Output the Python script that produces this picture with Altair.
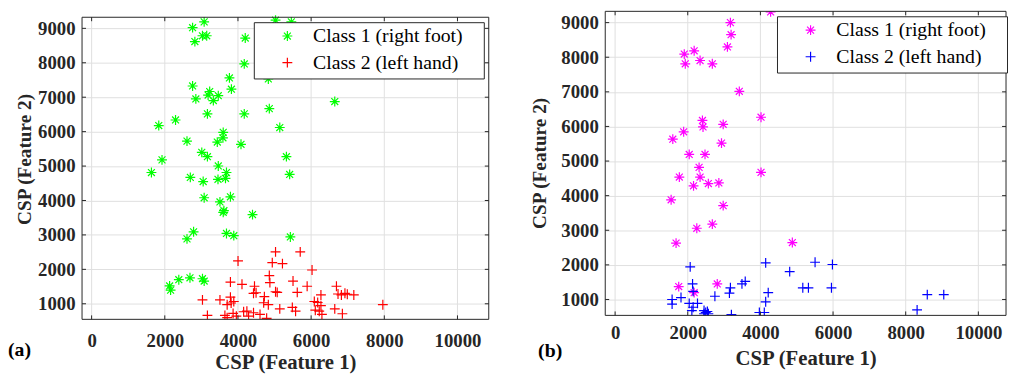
import altair as alt
import pandas as pd

# ---------------- data ----------------
classes = ["Class 1 (right foot)\u2800", "Class 2 (left hand)\u2800"]
x_ticks = [0, 2000, 4000, 6000, 8000, 10000]
y_ticks = [1000, 2000, 3000, 4000, 5000, 6000, 7000, 8000, 9000]

a_c1_x = [2760, 3076, 3030, 3146, 2822, 4199, 5027, 5459, 4172, 3767, 3821, 2760, 2849, 3227, 3184,
          3462, 3327, 3165, 4172, 4857, 5143, 2294, 1835, 3597, 3589, 3435, 2607, 4083, 3011, 3165,
          5324, 1924, 3462, 1635, 3686, 3659, 5413, 2698, 3049, 3454, 3076, 3794, 3508, 3616, 3597,
          4398, 2787, 2607, 3686, 3886, 5432, 2132, 2159, 2383, 2688, 3030, 3076, 6646, 4830]
a_c1_y = [9020, 9189, 8785, 8785, 8616, 8718, 9237, 9189, 7967, 7560, 7233, 7326, 6950, 7165, 7063,
          7044, 6902, 6516, 6516, 6668, 6120, 6338, 6177, 5979, 5821, 5697, 5725, 5632, 5397, 5273,
          5273, 5180, 5002, 4813, 4813, 4644, 4757, 4672, 4550, 4615, 4079, 4107, 3958, 3704, 3656,
          3591, 3091, 2885, 3043, 2978, 2941, 1518, 1397, 1699, 1755, 1727, 1660, 6874, 7530]
a_c2_x = [4002, 5027, 5702, 4938, 5216, 4857, 4873, 5505, 3794, 4110, 4452, 4425, 4495, 4722, 5027,
          5073, 5621, 3030, 3508, 3794, 3813, 3886, 3705, 4830, 5143, 5486, 5575, 3165, 3643, 3705,
          3867, 3956, 4155, 4244, 4290, 4425, 4603, 4784, 6025, 5891, 6268, 6087, 6179, 6268, 6114,
          6222, 6295, 6692, 6735, 6827, 6924, 6989, 7167, 6646, 6854, 7960, 4703]
a_c2_y = [2244, 2506, 2506, 2196, 2168, 1820, 1614, 1660, 1631, 1566, 1510, 1304, 1321, 1208, 1349,
          1332, 1332, 1115, 1115, 1191, 1022, 1067, 973, 973, 852, 897, 784, 663, 663, 598,
          719, 643, 768, 784, 643, 739, 691, 578, 1981, 1510, 1256, 1067, 1038, 945, 813,
          784, 691, 1510, 1284, 1256, 1304, 1276, 1256, 852, 711, 973, 1030]

b_c1_x = [4281, 3174, 3193, 3092, 1904, 2176, 1931, 2339, 2676, 3419, 4017, 2404, 2420, 2975, 1887,
          1588, 2929, 2040, 2475, 2312, 1768, 2339, 4017, 2159, 2567, 2856, 1542, 2975, 2249, 2676,
          1678, 4879, 1751, 2812, 2176]
b_c1_y = [9309, 9000, 8652, 8298, 8091, 8186, 7810, 7905, 7810, 7015, 6266, 6173, 5985, 6061, 5845,
          5632, 5519, 5191, 5191, 4818, 4537, 4537, 4672, 4284, 4349, 4368, 3880, 3712, 3058, 3178,
          2628, 2645, 1373, 1449, 1196]
b_c2_x = [2067, 2132, 2148, 1569, 1569, 1814, 2040, 2268, 2148, 2113, 2448, 2494, 2540, 2448, 2567,
          2747, 3147, 3174, 3492, 3582, 4145, 4215, 4145, 3971, 4107, 3201, 4806, 5167, 5322, 5505,
          5983, 5956, 8314, 8594, 9048]
b_c2_y = [1943, 1449, 1233, 1000, 868, 1056, 888, 888, 775, 680, 680, 624, 652, 587, 587,
          1093, 1185, 1337, 1449, 1522, 2056, 1196, 933, 624, 624, 560, 1803, 1337, 1337, 2075,
          2011, 1337, 700, 1140, 1140]

# ---------------- styling ----------------
STAR = "M-1,0L1,0M0,-1L0,1M-0.7,-0.7L0.7,0.7M-0.7,0.7L0.7,-0.7"
PLUS = "M-1,0L1,0M0,-1L0,1"
FONT = "Liberation Serif"
AX = "#262626"
GRID = "#DFDFDF"


def panel(c1x, c1y, c2x, c2y, colors, xdom, ydom, w, h, top, leg_x, leg_y,
          ytx, yty, xlp, xtp, tag, tag_x, tag_y):
    df = pd.DataFrame({
        "x": c1x + c2x,
        "y": c1y + c2y,
        "cls": [classes[0]] * len(c1x) + [classes[1]] * len(c2x),
    })
    leg = alt.Legend(
        orient="none", legendX=leg_x, legendY=leg_y, title=None,
        strokeColor=AX, fillColor="white", padding=6, symbolOffset=18,
        labelOffset=16, rowPadding=7, clipHeight=16, labelFont=FONT,
        labelFontSize=20, labelColor="black", labelLimit=400, symbolSize=100,
        symbolStrokeWidth=1.2,
    )
    xs = alt.Scale(domain=xdom, nice=False, zero=False)
    ys = alt.Scale(domain=ydom, range=[h, top], nice=False, zero=False)
    xax = alt.Axis(values=x_ticks, title="CSP (Feature 1)", labelPadding=xlp,
                   titlePadding=xtp, format="d", grid=False, labelOverlap=False)
    yax = alt.Axis(values=y_ticks, title="CSP (Feature 2)", labelPadding=7, format="d",
                   titleX=ytx, titleY=yty, titleAngle=270, titleAlign="center",
                   titleBaseline="middle", titleFontSize=19.5, labelOverlap=False,
                   grid=True)
    X = alt.X("x:Q", scale=xs, axis=xax)
    Y = alt.Y("y:Q", scale=ys, axis=yax)
    pts = alt.Chart(df).mark_point(filled=False, strokeWidth=1.2, size=100, opacity=1,
                                   clip=True).encode(
        x=X, y=Y,
        color=alt.Color("cls:N", scale=alt.Scale(domain=classes, range=colors), legend=leg),
        shape=alt.Shape("cls:N", scale=alt.Scale(domain=classes, range=[STAR, PLUS]), legend=leg),
    )
    xt = pd.DataFrame({"x": x_ticks})
    yt = pd.DataFrame({"y": y_ticks})
    xgrid = alt.Chart(xt).mark_rule(color=GRID, strokeWidth=1).encode(
        x=X, y=alt.value(top), y2=alt.value(h))
    frame = alt.Chart(alt.Data(values=[{"f": 1}])).mark_rect(
        filled=False, stroke=AX, strokeWidth=1).encode(
        x=alt.value(0), x2=alt.value(w), y=alt.value(top), y2=alt.value(h))
    tb = alt.Chart(xt).mark_rule(color=AX, strokeWidth=1).encode(
        x=X, y=alt.value(h), y2=alt.value(h - 4))
    tt = alt.Chart(xt).mark_rule(color=AX, strokeWidth=1).encode(
        x=X, y=alt.value(top), y2=alt.value(top + 4))
    tl = alt.Chart(yt).mark_rule(color=AX, strokeWidth=1).encode(
        y=Y, x=alt.value(0), x2=alt.value(4))
    tr = alt.Chart(yt).mark_rule(color=AX, strokeWidth=1).encode(
        y=Y, x=alt.value(w), x2=alt.value(w - 4))
    lab = alt.Chart(alt.Data(values=[{"t": tag}])).mark_text(
        font=FONT, fontSize=20, fontWeight="bold", color="black", align="left",
        baseline="middle").encode(text="t:N", x=alt.value(tag_x), y=alt.value(tag_y))
    return alt.layer(xgrid, pts, frame, tb, tt, tl, tr, lab).properties(width=w, height=h)


left = panel(a_c1_x, a_c1_y, a_c2_x, a_c2_y, ["#00FF00", "#FF0000"],
             [-262, 10855], [548, 9322], 412, 312, 6, 174, 11,
             -58, 149.5, 13, 1, "(a)", -75, 343.5)
right = panel(b_c1_x, b_c1_y, b_c2_x, b_c2_y, ["#FF00FF", "#0000FF"],
              [-272, 10762], [540, 9326], 406, 308, 0, 174, 5,
              -67, 153.5, 8, 6, "(b)", -68, 344)

chart = alt.hconcat(left, right, spacing=40).resolve_scale(
    color="independent", shape="independent", x="independent", y="independent"
).resolve_legend(color="independent", shape="independent").properties(
    padding=0, background="white"
).configure_view(stroke=None).configure_axis(
    gridColor=GRID, gridWidth=1, domain=False, ticks=False, labelOverlap=False,
    labelFont=FONT, labelFontWeight="bold", labelFontSize=19, labelColor=AX,
    titleFont=FONT, titleFontSize=21, titleFontWeight="bold", titleColor=AX,
)

chart.save("out.html", embed_options={"renderer": "svg", "actions": False})
